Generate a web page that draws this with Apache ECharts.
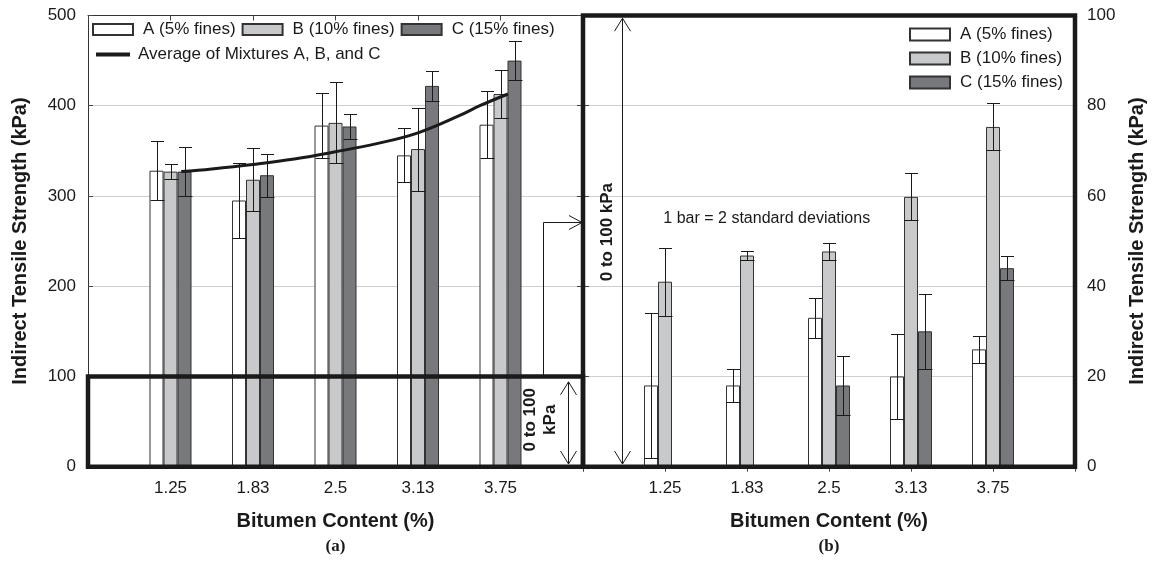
<!DOCTYPE html>
<html><head><meta charset="utf-8">
<script src="https://cdn.jsdelivr.net/npm/echarts@6/dist/echarts.min.js"></script>
<style>html,body{margin:0;padding:0;background:#fff}#c{width:1153px;height:566px}</style>
</head><body><div id="c"></div>
<script>
// ---------- data ----------
const categories = ['1.25', '1.83', '2.5', '3.13', '3.75'];
const axisCategories = ['', '1.25', '1.83', '2.5', '3.13', '3.75', ''];
const seriesNames = ['A (5% fines)', 'B (10% fines)', 'C (15% fines)'];
const trendName = 'Average of Mixtures A, B, and C';

// panel (a): full range, kPa (mean and half error bar)
const fullA = [328, 295, 378, 345, 379];
const fullAErr = [33, 42, 36, 30, 37];
const fullB = [327, 318, 381, 352, 413];
const fullBErr = [8, 35, 45, 46, 27];
const fullC = [327, 323, 377, 422, 450];
const fullCErr = [27, 24, 14, 17, 22];

// trend line of panel (a) (x in category units)
const trendX = [1.13, 1.5, 2, 2.5, 3, 3.5, 4, 4.5, 4.75, 5.09];
const trendY = [327, 330, 335, 341, 349, 358, 370, 389, 400, 413];

// panel (b): 0 to 100 kPa
const zoomA = [18, 18, 33, 20, 26];
const zoomAErr = [16, 3.6, 4.5, 9.5, 3];
const zoomB = [41, 46.8, 47.7, 59.8, 75.3];
const zoomBErr = [7.5, 1, 1.8, 5.2, 5.2];
const zoomC = [null, null, 18, 30, 44];
const zoomCErr = [null, null, 6.6, 8.3, 2.6];

// ---------- style ----------
const FONT = '"Liberation Sans", Arial, sans-serif';
const INK = '#1a1a1a';
const fills = ['#ffffff', '#c8c9cb', '#78797c'];
const BAR_W = 14;

const chart = echarts.init(document.getElementById('c'), null, {renderer: 'canvas'});

function barSeries(k, vals, xi, yi) {
  return {
    type: 'bar', name: seriesNames[k], xAxisIndex: xi, yAxisIndex: yi,
    barWidth: BAR_W, barGap: '0%',
    data: vals.map((v, i) => [categories[i], v]).filter(d => d[1] != null),
    itemStyle: {color: fills[k], borderColor: '#333', borderWidth: 1},
    z: 2, silent: true
  };
}
function errSeries(k, vals, errs, xi, yi) {
  return {
    type: 'custom', xAxisIndex: xi, yAxisIndex: yi, z: 5, silent: true,
    data: vals.map((v, i) => [categories[i], v, errs[i]]).filter(d => d[1] != null),
    encode: {x: 0, y: 1},
    renderItem: (params, api) => {
      const c = api.value(0), v = api.value(1), e = api.value(2);
      const top = api.coord([c, v + e]);
      const bot = api.coord([c, v - e]);
      const x = Math.round(top[0] + (k - 1) * BAR_W) + 0.5;
      const ty = Math.round(top[1]) + 0.5, by = Math.round(bot[1]) + 0.5;
      const st = {stroke: INK, lineWidth: 1};
      return {type: 'group', children: [
        {type: 'line', shape: {x1: x, y1: ty, x2: x, y2: by}, style: st},
        {type: 'line', shape: {x1: x - 6.5, y1: ty, x2: x + 6.5, y2: ty}, style: st},
        {type: 'line', shape: {x1: x - 7, y1: by, x2: x + 7, y2: by}, style: st}
      ]};
    }
  };
}

const txt = {fontFamily: FONT, color: INK};
function catAxis(g) {
  return {
    gridIndex: g, type: 'category', data: axisCategories, boundaryGap: false, position: 'bottom',
    axisLine: {show: false}, axisTick: {show: false},
    axisLabel: Object.assign({interval: 0, margin: 13, fontSize: 17}, txt),
    name: 'Bitumen Content (%)', nameLocation: 'middle', nameGap: 45,
    nameTextStyle: Object.assign({fontSize: 20, fontWeight: 'bold'}, txt)
  };
}
function topAxis(g, showLine) {
  return {
    gridIndex: g, type: 'value', min: 0, max: 6, interval: 1, position: 'top',
    axisLine: {show: showLine, lineStyle: {color: '#333', width: 1}},
    axisTick: {show: true, inside: true, length: 5, lineStyle: {color: '#444'}},
    axisLabel: {show: false}, splitLine: {show: false}
  };
}
const split = {show: true, showMinLine: false, showMaxLine: false, lineStyle: {color: '#cfcfcf', width: 1}};
const yName = 'Indirect Tensile Strength (kPa)';

const option = {
  animation: false,
  backgroundColor: '#fff',
  grid: [
    {left: 88, top: 15.5, width: 495, height: 451.2},
    {left: 583, top: 15.5, width: 492, height: 451.2}
  ],
  legend: [
    {left: 92, top: 21, padding: 0, itemWidth: 40, itemHeight: 11, itemGap: 6, icon: 'rect',
     selectedMode: false, data: seriesNames,
     textStyle: Object.assign({fontSize: 17, padding: [0, 0, 0, 5]}, txt)},
    {left: 96, top: 46, padding: 0, itemWidth: 34, itemHeight: 4, icon: 'rect',
     selectedMode: false, data: [trendName],
     textStyle: Object.assign({fontSize: 17, padding: [0, 0, 0, 3]}, txt)},
    {left: 909, top: 26, padding: 0, orient: 'vertical', itemWidth: 40, itemHeight: 12, itemGap: 7,
     icon: 'rect', selectedMode: false, data: seriesNames,
     textStyle: Object.assign({fontSize: 17, padding: [0, 0, 0, 5]}, txt)}
  ],
  xAxis: [catAxis(0), topAxis(0, true), catAxis(1), topAxis(1, false)],
  yAxis: [
    {gridIndex: 0, type: 'value', min: 0, max: 500, interval: 100,
     axisLine: {show: true, lineStyle: {color: '#333', width: 1}},
     axisTick: {show: true, inside: true, length: 5, lineStyle: {color: '#444'}},
     axisLabel: Object.assign({margin: 12, fontSize: 17}, txt), splitLine: split,
     name: yName, nameLocation: 'middle', nameGap: 58, nameRotate: 90,
     nameTextStyle: Object.assign({fontSize: 20, fontWeight: 'bold'}, txt)},
    {gridIndex: 1, type: 'value', min: 0, max: 100, interval: 20, position: 'right',
     axisLine: {show: false},
     axisTick: {show: true, inside: true, length: 6, lineStyle: {color: '#444'}},
     axisLabel: Object.assign({margin: 12, fontSize: 17}, txt), splitLine: split,
     name: yName, nameLocation: 'middle', nameGap: 52, nameRotate: 90,
     nameTextStyle: Object.assign({fontSize: 20, fontWeight: 'bold'}, txt)},
    {gridIndex: 1, type: 'value', min: 0, max: 100, interval: 20, position: 'left',
     axisLine: {show: false},
     axisTick: {show: true, inside: true, length: 6, lineStyle: {color: '#444'}},
     axisLabel: {show: false}, splitLine: {show: false}}
  ],
  series: [
    barSeries(0, fullA, 0, 0), barSeries(1, fullB, 0, 0), barSeries(2, fullC, 0, 0),
    errSeries(0, fullA, fullAErr, 0, 0), errSeries(1, fullB, fullBErr, 0, 0), errSeries(2, fullC, fullCErr, 0, 0),
    {type: 'line', name: trendName, xAxisIndex: 1, yAxisIndex: 0,
     data: trendX.map((x, i) => [x, trendY[i]]), smooth: 0.4, showSymbol: false, symbol: 'none',
     lineStyle: {color: INK, width: 3}, itemStyle: {color: INK}, z: 4, silent: true},
    barSeries(0, zoomA, 2, 1), barSeries(1, zoomB, 2, 1), barSeries(2, zoomC, 2, 1),
    errSeries(0, zoomA, zoomAErr, 2, 1), errSeries(1, zoomB, zoomBErr, 2, 1), errSeries(2, zoomC, zoomCErr, 2, 1)
  ]
};
chart.setOption(option);

// ---------- annotations (placed through the axes) ----------
const L = (x, y) => chart.convertToPixel({xAxisIndex: 1, yAxisIndex: 0}, [x, y]);
const R = (x, y) => chart.convertToPixel({xAxisIndex: 3, yAxisIndex: 1}, [x, y]);
const thin = {stroke: INK, lineWidth: 1, fill: null};
function boxEl(p0, p1) {
  return {type: 'rect', z: 100, shape: {x: p0[0], y: p0[1], width: p1[0] - p0[0], height: p1[1] - p0[1]},
          style: {stroke: INK, lineWidth: 4.5, fill: null, lineJoin: 'miter'}};
}
function vArrow(top, bot) {
  const x = Math.round(top[0]) + 0.5, hw = 8, hl = 13;
  return [
    {type: 'line', z: 90, shape: {x1: x, y1: top[1], x2: x, y2: bot[1]}, style: thin},
    {type: 'polyline', z: 90, shape: {points: [[x - hw, top[1] + hl], [x, top[1]], [x + hw, top[1] + hl]]}, style: thin},
    {type: 'polyline', z: 90, shape: {points: [[x - hw, bot[1] - hl], [x, bot[1]], [x + hw, bot[1] - hl]]}, style: thin}
  ];
}
function label(p, text, opts) {
  return Object.assign({type: 'text', z: 95, x: p[0], y: p[1],
    style: Object.assign({text: text, fill: INK, fontFamily: FONT, align: 'center', verticalAlign: 'middle'}, opts.style)},
    opts.el || {});
}

const g = [];
g.push(boxEl(L(0, 100), L(6, 0)));
g.push(boxEl(R(0, 100), R(6, 0)));
// panel (a) small double arrow + text
g.push(...vArrow(L(5.82, 94), L(5.82, 3)));
g.push(label(L(5.48, 52), '0 to 100\nkPa',
  {style: {fontSize: 17, fontWeight: 'bold', lineHeight: 20}, el: {rotation: Math.PI / 2}}));
// bracket arrow from the small box to panel (b)
const b0 = L(5.52, 100), b1 = L(5.52, 271), b2 = [R(0, 0)[0] - 1, b1[1]];
const bx = Math.round(b0[0]) + 0.5, by = Math.round(b1[1]) + 0.5;
g.push({type: 'polyline', z: 90, shape: {points: [[bx, b0[1]], [bx, by], [b2[0], by]]}, style: thin});
g.push({type: 'polyline', z: 90, shape: {points: [[b2[0] - 13, by - 7], [b2[0], by], [b2[0] - 13, by + 7]]}, style: thin});
// panel (b) long double arrow + text
g.push(...vArrow(R(0.475, 99.4), R(0.475, 0.6)));
g.push(label(R(0.3, 52), '0 to 100 kPa',
  {style: {fontSize: 17, fontWeight: 'bold'}, el: {rotation: Math.PI / 2}}));
g.push(label(R(0.98, 55), '1 bar = 2 standard deviations', {style: {fontSize: 16, align: 'left'}}));
// sub-figure captions
g.push(label([L(3, 0)[0], 547], '(a)', {style: {fontSize: 17, fontWeight: 'bold', fontFamily: '"Liberation Serif", "Times New Roman", serif'}}));
g.push(label([R(3, 0)[0], 547], '(b)', {style: {fontSize: 17, fontWeight: 'bold', fontFamily: '"Liberation Serif", "Times New Roman", serif'}}));

chart.setOption({graphic: {elements: g}});
</script>
</body></html>
